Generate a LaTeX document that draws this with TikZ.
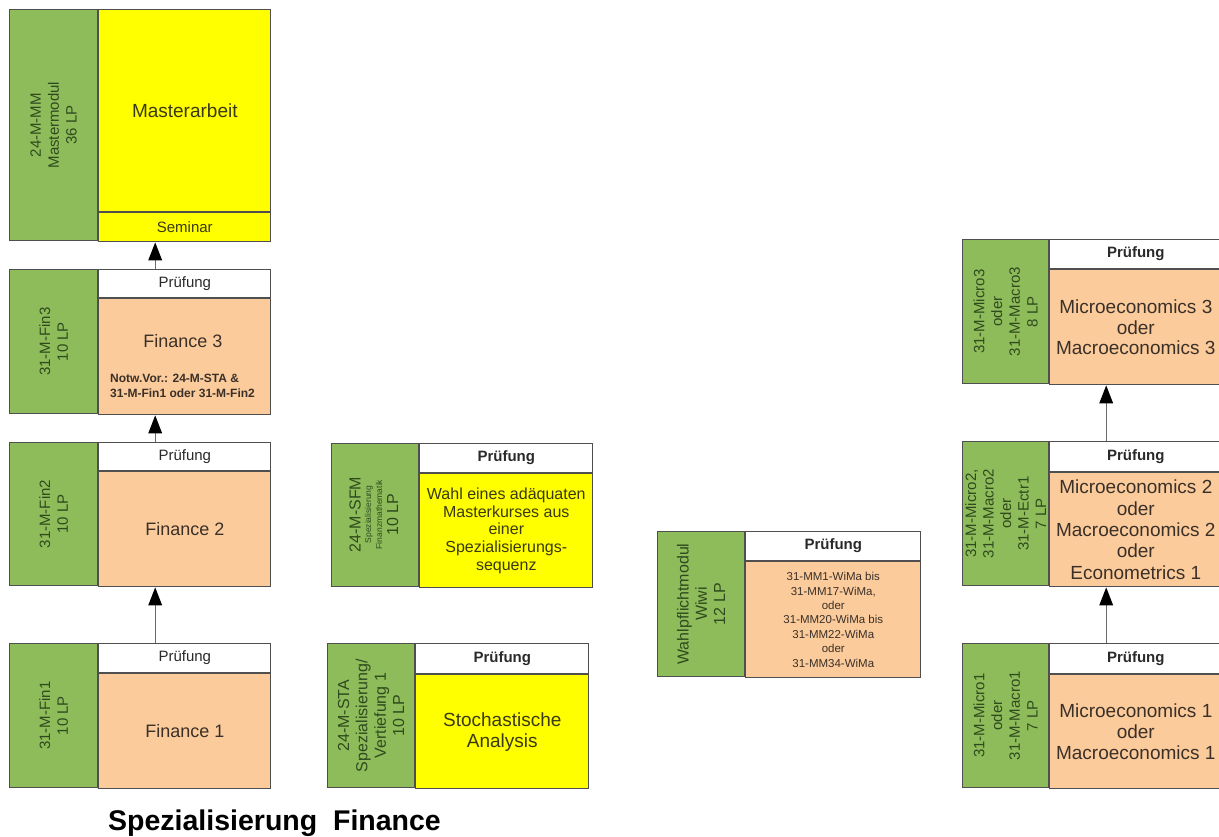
\documentclass[tikz,border=0pt]{standalone}
\usepackage{fontspec}
\setmainfont{Liberation Sans}
\usetikzlibrary{arrows.meta}
\definecolor{gfill}{HTML}{8FBC5A}
\definecolor{ofill}{HTML}{FCCB9C}
\definecolor{yfill}{HTML}{FFFF00}
\definecolor{bcol}{HTML}{4F4F4F}
\definecolor{acol}{HTML}{6A6A6A}
\definecolor{gtxt}{HTML}{2E4A1E}
\definecolor{otxt}{HTML}{3A3028}
\definecolor{ytxt}{HTML}{3A3A12}
\definecolor{ptxt}{HTML}{2A2A2A}
\begin{document}
\begin{tikzpicture}[x=1pt,y=-1pt,
  boxbase/.style={draw=bcol, line width=1.2pt, inner sep=0pt, anchor=north west, align=center},
  gbox/.style={boxbase, fill=gfill},
  obox/.style={boxbase, fill=ofill, text=otxt},
  ybox/.style={boxbase, fill=yfill, text=ytxt},
  pbox/.style={boxbase, fill=white, text=ptxt, font=\fontsize{15}{18}\selectfont},
  pboxb/.style={pbox, font=\fontsize{15}{18}\selectfont\bfseries},
  gtext/.style={rotate=90, align=center, text=gtxt, inner sep=0pt, font=\fontsize{15}{17.8}\selectfont},
  bigtext/.style={font=\fontsize{19}{20.8}\selectfont},
  arr/.style={draw=acol, line width=1.4pt, -{Triangle[length=18pt,width=14pt,color=black,fill=black,line width=0pt]}}
]
\useasboundingbox (0,0) rectangle (1219,836);

% ---------- Mastermodul ----------
\node[gbox, minimum width=88, minimum height=231] (mmg) at (9,9) {};
\node[gtext] (mmgt) at (mmg.center) {24-M-MM\\Mastermodul\\36 LP};
\node[ybox, minimum width=172, minimum height=202, font=\fontsize{19}{22}\selectfont] (mma) at (mmg.north east) {Masterarbeit};
\node[ybox, minimum width=172, minimum height=29, font=\fontsize{15}{18}\selectfont] (mms) at (mma.south west) {Seminar};

% ---------- Finance 3 ----------
\node[gbox, minimum width=88, minimum height=144] (f3g) at (9,269) {};
\node[gtext] (f3gt) at (f3g.center) {31-M-Fin3\\10 LP};
\node[pbox, minimum width=172, minimum height=28] (f3p) at (f3g.north east) {Prüfung};
\node[obox, minimum width=172, minimum height=116] (f3m) at (f3p.south west) {};
\node[text=otxt, font=\fontsize{18}{20}\selectfont, inner sep=0pt] (f3t) at (183,341) {Finance 3};
\node[text=otxt, font=\fontsize{12}{15}\selectfont\bfseries, align=left, anchor=west, inner sep=0pt] (f3n) at (110,385.5) {Notw.Vor.: 24-M-STA \&\\31-M-Fin1 oder 31-M-Fin2};

% ---------- Finance 2 ----------
\node[gbox, minimum width=88, minimum height=143] (f2g) at (9,442) {};
\node[gtext] (f2gt) at (f2g.center) {31-M-Fin2\\10 LP};
\node[pbox, minimum width=172, minimum height=28] (f2p) at (f2g.north east) {Prüfung};
\node[obox, minimum width=172, minimum height=115, font=\fontsize{18}{20}\selectfont] (f2m) at (f2p.south west) {Finance 2};

% ---------- Finance 1 ----------
\node[gbox, minimum width=88, minimum height=144] (f1g) at (9,643) {};
\node[gtext] (f1gt) at (f1g.center) {31-M-Fin1\\10 LP};
\node[pbox, minimum width=172, minimum height=29] (f1p) at (f1g.north east) {Prüfung};
\node[obox, minimum width=172, minimum height=115, font=\fontsize{18}{20}\selectfont] (f1m) at (f1p.south west) {Finance 1};

% arrows left column
\draw[arr] ([xshift=57pt]f1p.north west) -- ([xshift=57pt]f2m.south west);
\draw[arr] ([xshift=57pt]f2p.north west) -- ([xshift=57pt]f3m.south west);
\draw[arr] ([xshift=57pt]f3p.north west) -- ([xshift=57pt]mms.south west);

% ---------- 24-M-SFM ----------
\node[gbox, minimum width=87, minimum height=143] (sfg) at (331,443) {};
\node[gtext, font=\fontsize{16}{17}\selectfont] (sfgt1) at (355,514.5) {24-M-SFM};
\node[gtext, font=\fontsize{8.5}{9.5}\selectfont] (sfgt2) at (369,514.5) {Spezialisierung};
\node[gtext, font=\fontsize{8.5}{9.5}\selectfont] (sfgt3) at (379,514.5) {Finanzmathematik};
\node[gtext, font=\fontsize{16}{17}\selectfont] (sfgt4) at (392.5,514.5) {10 LP};
\node[pboxb, minimum width=173, minimum height=29] (sfp) at (sfg.north east) {Prüfung};
\node[ybox, minimum width=173, minimum height=114, font=\fontsize{16}{17.7}\selectfont] (sfm) at (sfp.south west) {Wahl eines adäquaten\\Masterkurses aus\\einer\\Spezialisierungs-\\sequenz};

% ---------- 24-M-STA ----------
\node[gbox, minimum width=87, minimum height=144] (stg) at (327,643) {};
\node[gtext, font=\fontsize{16}{18.3}\selectfont] (stgt) at (stg.center) {24-M-STA\\Spezialisierung/\\Vertiefung 1\\10 LP};
\node[pboxb, minimum width=173, minimum height=30] (stp) at (stg.north east) {Prüfung};
\node[ybox, minimum width=173, minimum height=114, bigtext] (stm) at (stp.south west) {Stochastische\\Analysis};

% ---------- Wahlpflichtmodul ----------
\node[gbox, minimum width=87, minimum height=145] (wpg) at (657,531) {};
\node[gtext, font=\fontsize{16}{18.3}\selectfont] (wpgt) at (wpg.center) {Wahlpflichtmodul\\Wiwi\\12 LP};
\node[pboxb, minimum width=175, minimum height=29] (wpp) at (wpg.north east) {Prüfung};
\node[obox, minimum width=175, minimum height=116, font=\fontsize{11.5}{14.4}\selectfont] (wpm) at (wpp.south west) {31-MM1-WiMa bis\\31-MM17-WiMa,\\oder\\31-MM20-WiMa bis\\31-MM22-WiMa\\oder\\31-MM34-WiMa};

% ---------- Micro/Macro 3 ----------
\node[gbox, minimum width=86, minimum height=144] (m3g) at (962,239) {};
\node[gtext] (m3gt) at (m3g.center) {31-M-Micro3\\oder\\31-M-Macro3\\8 LP};
\node[pboxb, minimum width=172, minimum height=29] (m3p) at (m3g.north east) {Prüfung};
\node[obox, minimum width=172, minimum height=115, bigtext] (m3m) at (m3p.south west) {Microeconomics 3\\oder\\Macroeconomics 3};

% ---------- Micro/Macro 2 ----------
\node[gbox, minimum width=86, minimum height=144] (m2g) at (962,441) {};
\node[gtext, font=\fontsize{15}{17.5}\selectfont] (m2gt) at (m2g.center) {31-M-Micro2,\\31-M-Macro2\\oder\\31-M-Ectr1\\7 LP};
\node[pboxb, minimum width=172, minimum height=30] (m2p) at (m2g.north east) {Prüfung};
\node[obox, minimum width=172, minimum height=114, font=\fontsize{19}{21.3}\selectfont] (m2m) at (m2p.south west) {Microeconomics 2\\oder\\Macroeconomics 2\\oder\\Econometrics 1};

% ---------- Micro/Macro 1 ----------
\node[gbox, minimum width=86, minimum height=144] (m1g) at (962,643) {};
\node[gtext] (m1gt) at (m1g.center) {31-M-Micro1\\oder\\31-M-Macro1\\7 LP};
\node[pboxb, minimum width=172, minimum height=30] (m1p) at (m1g.north east) {Prüfung};
\node[obox, minimum width=172, minimum height=114, bigtext] (m1m) at (m1p.south west) {Microeconomics 1\\oder\\Macroeconomics 1};

% arrows right column
\draw[arr] ([xshift=57pt]m1p.north west) -- ([xshift=57pt]m2m.south west);
\draw[arr] ([xshift=57pt]m2p.north west) -- ([xshift=57pt]m3m.south west);

% ---------- Title ----------
\node[anchor=base west, inner sep=0pt, font=\fontsize{28.5}{30}\selectfont\bfseries] (title) at (108,830) {Spezialisierung\ \ Finance};
\end{tikzpicture}
\end{document}
